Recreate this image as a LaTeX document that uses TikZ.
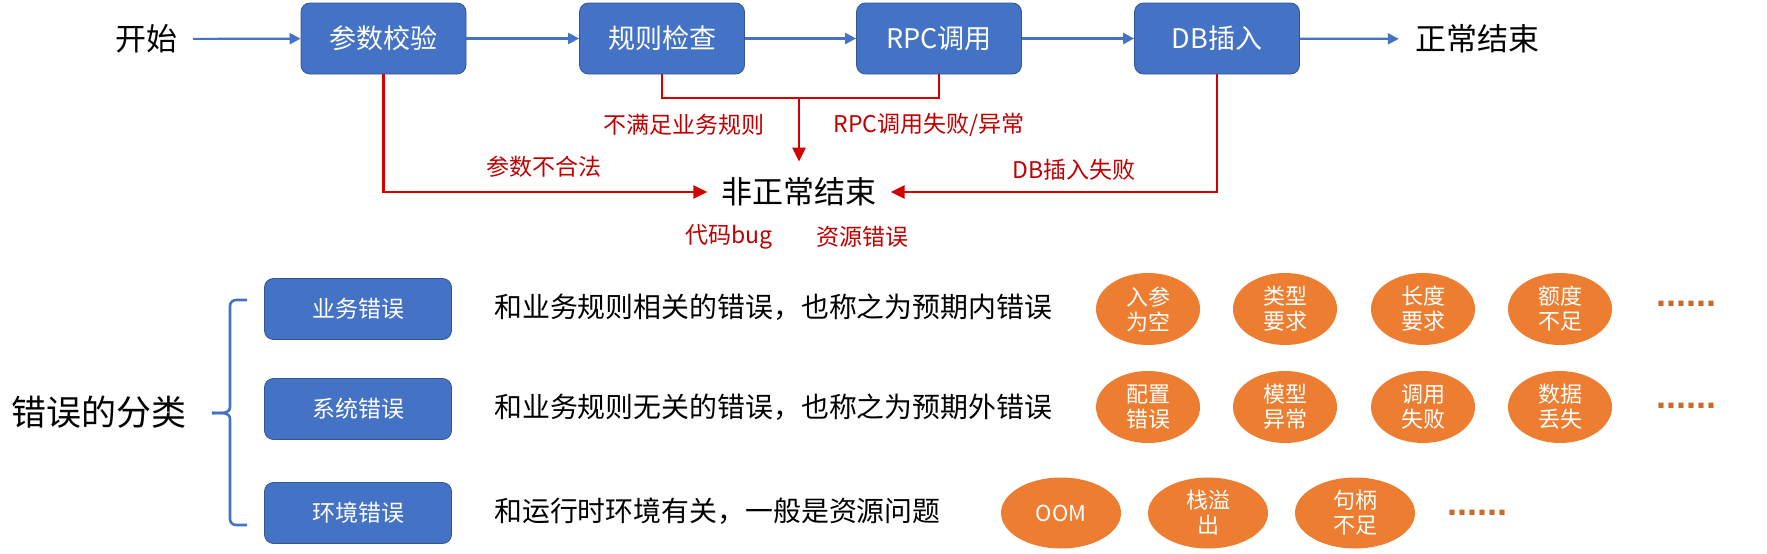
\documentclass[tikz,border=0pt]{standalone}
\usepackage{fontspec}
\setmainfont{Noto Sans CJK SC}
\newfontfamily\dotfont{Liberation Sans}
\usepackage{xcolor}
\usetikzlibrary{arrows.meta,shapes.geometric}

\definecolor{boxblue}{HTML}{4472C4}
\definecolor{ballorange}{HTML}{ED7D31}
\definecolor{errred}{HTML}{D40000}
\definecolor{labred}{HTML}{C00000}

\begin{document}
\begin{tikzpicture}[x=1pt, y=-1pt,
    stepbox/.style={draw=boxblue!75!black, line width=0.8pt, fill=boxblue, rounded corners=9pt,
        minimum width=165pt, minimum height=71pt, text=white, font=\fontsize{27}{32}\selectfont},
    kindbox/.style={stepbox, minimum width=187pt, minimum height=61pt, font=\fontsize{23}{28}\selectfont},
    endtext/.style={inner sep=16pt, font=\fontsize{31}{36}\selectfont},
    errlabel/.style={text=labred, inner sep=0pt, font=\fontsize{23}{28}\selectfont},
    desc/.style={anchor=west, inner sep=0pt, font=\fontsize{27.9}{32}\selectfont},
    caseball/.style={ellipse, fill=ballorange, minimum width=104pt, minimum height=72pt, inner sep=0pt,
        text=white, align=center, font=\fontsize{22}{25}\selectfont},
    bigball/.style={caseball, minimum width=120pt, minimum height=71pt},
    moredots/.style={anchor=base, text=ballorange!85!black, inner sep=0pt, font=\dotfont\bfseries\fontsize{36}{40}\selectfont},
    flow/.style={draw=boxblue, line width=2.2pt, -{Triangle[length=11pt,width=11pt]}},
    errflow/.style={draw=errred, line width=2.8pt, -{Triangle[length=14pt,width=13pt]}},
    errjoin/.style={draw=errred, line width=2.8pt},
    brace/.style={draw=boxblue, line width=2.6pt}]
    \useasboundingbox (0,0) rectangle (1767,554);

    % Request flow (top)
    \node[endtext] (start) at (146, 39) {开始};
    \node[stepbox] (val) at (383.5, 38.5) {参数校验};
    \node[stepbox] (chk) at (662, 38.5) {规则检查};
    \node[stepbox] (rpc) at (939, 38.5) {RPC调用};
    \node[stepbox] (db) at (1217, 38.5) {DB插入};
    \node[endtext] (ok) at (1477, 39) {正常结束};
    \node[endtext, inner xsep=14pt] (abn) at (799, 192) {非正常结束};

    \draw[flow] (start) -- (val);
    \draw[flow] (val) -- (chk);
    \draw[flow] (chk) -- (rpc);
    \draw[flow] (rpc) -- (db);
    \draw[flow] (db) -- (ok);

    % Failure paths
    \coordinate (mrg) at (799, 98);
    \draw[errflow] (val.south) |- (abn.west);
    \draw[errjoin] (chk.south) |- (mrg) -| (rpc.south);
    \draw[errflow] (mrg) -- (abn.north);
    \draw[errflow] (db.south) |- (abn.east);

    \node[errlabel] (l1) at (544, 167) {参数不合法};
    \node[errlabel] (l2) at (684, 125) {不满足业务规则};
    \node[errlabel] (l3) at (929, 125) {RPC调用失败/异常};
    \node[errlabel] (l4) at (1074, 170) {DB插入失败};
    \node[errlabel] (l5) at (729, 237) {代码bug};
    \node[errlabel] (l6) at (862, 237) {资源错误};

    % Error classes (bottom)
    \node[font=\fontsize{35}{40}\selectfont] (cls) at (99, 412) {错误的分类};
    \coordinate (bt) at (247, 300);
    \coordinate (bb) at (247, 525);
    \coordinate (btip) at (212, 413);
    \draw[brace] (bt) -- (236, 300) to[out=180, in=90] (230, 306) -- (230, 407) to[out=270, in=0] (btip);
    \draw[brace] (bb) -- (236, 525) to[out=180, in=270] (230, 519) -- (230, 419) to[out=90, in=0] (btip);

    \node[kindbox] (biz) at (358, 309) {业务错误};
    \node[kindbox] (sys) at (358, 409) {系统错误};
    \node[kindbox] (env) at (358, 513) {环境错误};

    \node[desc] (d1) at (494, 307) {和业务规则相关的错误，也称之为预期内错误};
    \node[desc] (d2) at (494, 407) {和业务规则无关的错误，也称之为预期外错误};
    \node[desc] (d3) at (494, 511) {和运行时环境有关，一般是资源问题};

    % Examples
    \node[caseball] (b11) at (1148, 309) {入参\\为空};
    \node[caseball] (b12) at (1285, 309) {类型\\要求};
    \node[caseball] (b13) at (1423, 309) {长度\\要求};
    \node[caseball] (b14) at (1560, 309) {额度\\不足};
    \node[moredots] (m1) at (1686.5, 306.5) {......};

    \node[caseball] (b21) at (1148, 407) {配置\\错误};
    \node[caseball] (b22) at (1285, 407) {模型\\异常};
    \node[caseball] (b23) at (1423, 407) {调用\\失败};
    \node[caseball] (b24) at (1560, 407) {数据\\丢失};
    \node[moredots] (m2) at (1686.5, 408.5) {......};

    \node[bigball] (b31) at (1061, 513) {OOM};
    \node[bigball] (b32) at (1208, 513) {栈溢\\出};
    \node[bigball] (b33) at (1355, 513) {句柄\\不足};
    \node[moredots] (m3) at (1477, 515.5) {......};
\end{tikzpicture}
\end{document}
